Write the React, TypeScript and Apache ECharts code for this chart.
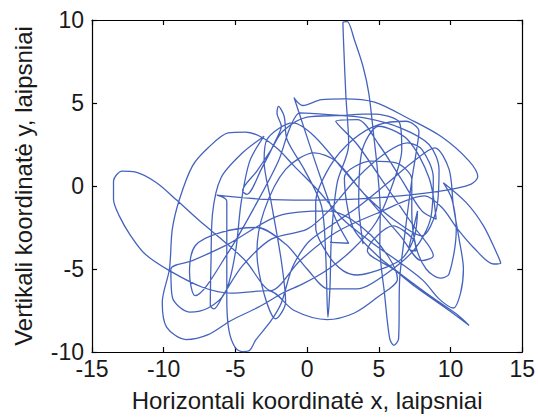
import React, { useEffect, useRef } from "react";
import * as echarts from "echarts";

const xTicks = [-15, -10, -5, 0, 5, 10, 15];
const yTicks = [-10, -5, 0, 5, 10];
const xTitle = "Horizontali koordinatė x, laipsniai";
const yTitle = "Vertikali koordinatė y, laipsniai";

// gaze trajectory (degrees)
const gazePath: [number, number][] = [
  [1.6, -3.4], [2.9, -3.45],
  [2.0, -2.0], [0.9, 0.6], [-0.1, 3.2], [-0.9, 5.3],
  [-0.3, 4.85], [1.0, 5.2], [2.6, 5.25], [4.7, 5.05], [7.1, 4.05], [9.4, 2.95], [11.3, 1.5], [11.9, 0.55], [11.4, 0.1], [9.4, -0.3], [6.5, -0.6], [3.0, -0.8], [0, -0.85], [-3, -0.8], [-6.3, -0.55],
  [-5.6, -0.9], [-5.6, -2.6], [-5.6, -4.8], [-5.6, -6.8], [-5.45, -8.7], [-5.0, -9.75], [-4.5, -9.98], [-4.0, -9.9], [-3.6, -9.3], [-2.5, -8.1], [-1.8, -7.05], [-1.1, -5.06], [-0.45, -4.0], [0.24, -3.25], [1.8, -2.3], [3.5, -1.3], [5.5, 0.1], [7.3, 1.4], [8.9, 2.3],
  [9.9, 1.0], [10.2, -1.2], [10.6, -3.2], [10.9, -5.0], [10.7, -6.45], [10.2, -7.35], [9.2, -6.8], [8.1, -5.7], [6.45, -4.6], [4.5, -3.4], [2.5, -2.0], [0.8, -0.3], [-0.9, 1.2], [-2.0, 2.2],
  [-3.2, 2.95], [-4.3, 3.25], [-5.5, 3.2], [-6.9, 2.3], [-8.0, 1.2], [-8.9, -0.8], [-9.4, -2.6], [-9.6, -5.0], [-10.1, -7.0], [-9.8, -8.5], [-8.45, -9.25], [-6.9, -8.95], [-5.3, -8.1], [-3.4, -7.3], [-1.6, -6.4], [-0.3, -5.9], [1.5, -5.0], [3.2, -3.8], [4.8, -2.2], [6.0, 0.2], [6.6, 2.2], [6.45, 3.8],
  [4.5, 4.35], [2.3, 4.25], [0, 4.15], [-1.7, 3.3], [-2.5, 2.2],
  [-3.5, 0.9], [-4.5, -0.3], [-4.2, -0.5], [-3.2, 1.0], [-2.1, 2.9], [-1.8, 3.6], [-2.1, 4.4], [-2.0, 4.8], [-1.6, 4.2], [-1.4, 2.8],
  [-0.2, 1.0], [1.0, -1.2], [1.3, -4.2], [1.45, -7.9], [1.6, -6.0], [1.7, -3.0], [2.1, 0.2], [2.9, 2.5],
  [2.7, 5.5], [2.55, 8.5], [2.5, 9.85], [2.8, 9.9], [3.3, 8.8], [3.9, 7.2], [4.3, 5.6], [4.65, 3.0], [4.9, 1.0], [5.1, -1.5], [5.07, -3.67], [5.4, -6.5], [5.76, -9.2], [6.05, -9.6], [6.38, -9.2], [6.45, -5.66], [6.7, -3.67], [7.3, 0.36], [7.6, 2.0],
  [7.8, 3.3], [6.9, 3.9], [5.0, 3.7], [3.2, 2.8], [1.6, 1.2], [0.6, -1.0], [0.6, -2.5], [1.5, -4.2], [2.5, -5.1], [3.5, -5.36], [5.5, -4.9], [6.7, -4.3], [7.5, -3.0], [7.7, -1.5],
  [7.3, -3.0], [7.1, -3.8], [7.6, -3.9], [7.4, -3.2], [6.0, -2.4], [4.2, -3.9], [6.0, -5.0], [7.6, -6.1], [9.9, -7.5], [11.3, -8.4], [10.4, -7.7], [8.8, -6.75], [6.45, -5.25], [4.9, -4.2],
  [3.2, -2.5], [2.6, 0.5], [4.5, 1.5], [6.2, 1.4], [7.3, 0.4], [7.3, -1.6], [7.6, -3.67], [8.3, -5.0], [9.3, -5.55], [9.9, -5.3], [10.4, -2.65], [10.1, -0.8], [9.5, 0.2],
  [11.1, -1.0], [12.3, -2.4], [13.2, -4.0], [13.5, -4.65], [13.0, -4.7], [11.6, -3.7], [10.5, -2.6], [9.4, -1.3], [8.2, -0.6],
  [5, -1.6], [2, -2.8], [-0.5, -4.5], [-2.5, -6.3],
  [-4.3, -4.5], [-5.7, -3.4], [-7.5, -2.1], [-9.1, -0.85], [-10.5, 0.2], [-12, 0.85], [-12.9, 0.9], [-13.5, 0.3], [-13.5, -0.8], [-13.1, -1.8], [-12.3, -3.0], [-11.3, -4.1], [-9.6, -5.1], [-7.3, -6.1], [-5.3, -6.45], [-2.7, -6.3],
  [-0.9, -7.5], [1.4, -8.05], [3.3, -7.65], [4.9, -6.7], [6.3, -5.6],
  [4.5, -3.0], [1.5, -1.5], [-2, -1.8], [-5.5, -3.5], [-8, -4.5], [-9.5, -5.0], [-9.4, -6.7], [-8.2, -7.6], [-6.9, -7.35], [-5.7, -6.4], [-5.0, -4.0], [-4.6, -1.0], [-4.0, 1.5], [-3.0, 3.0],
  [-4.5, 2.0], [-6.0, 0.5], [-6.6, -1.7], [-6.7, -4.5], [-6.75, -7.2], [-6.5, -7.4], [-5.8, -6.5], [-4.5, -4.8], [-2.5, -3.2], [0, -2.6],
  [1.5, -1.5], [3.5, 0.5], [5.5, 2.0], [7.0, 2.6], [8.0, 2.2],
  [8.8, 0.5], [8.6, -2.0], [7.5, -3.8], [5.5, -5.3], [3.5, -6.2], [1.5, -6.2], [0, -5.0], [-1.5, -3.5], [-3.5, -2.5], [-6, -2.8], [-7.8, -3.6],
  [-8.2, -5.2], [-7.8, -6.6], [-5.5, -4.0], [-3.5, -1.0], [-2.0, 1.5], [-1.2, 3.5], [-0.5, 4.4],
  [1.5, 4.3], [4.0, 4.1], [6.5, 3.5], [8.5, 2.5], [9.2, 1.0], [9.0, -1.5], [8.0, -3.0],
  [6.0, -2.0], [4.0, -0.5], [2.0, 1.5], [0.5, 2.0], [-1.5, 1.0], [-3.0, -1.5], [-3.5, -4.0], [-3.0, -6.5], [-2.2, -8.0], [-1.5, -7.0], [-1.8, -4.5], [-2.5, -1.0], [-3.0, 1.5], [-2.8, 2.8],
  [-1.0, 3.8], [0.5, 3.0], [2.5, 1.0], [4.5, -1.0], [6.5, -3.0], [8.0, -4.5], [8.8, -4.2], [7.5, -2.5], [5.5, 0.0], [3.5, 2.5], [2.0, 3.9],
  [3.5, 4.0], [5.0, 2.5], [6.5, 0.5], [8.0, -1.5], [9.0, -2.0], [8.5, 0.5], [7.0, 2.8], [5.0, 3.6], [3.8, 2.0], [3.6, -1.0], [3.9, -3.5]
];

const textColor = "#1a1a1a";
const font = "'Liberation Sans', Arial, sans-serif";

export default function App() {
  const ref = useRef<HTMLDivElement>(null);
  useEffect(() => {
    if (!ref.current) return;
    const chart = echarts.init(ref.current, null, { renderer: "svg" });
    const axisLine = { show: true, onZero: false, lineStyle: { color: "#000", width: 1.2 } };
    const tick = { show: true, inside: true, length: 5, lineStyle: { color: "#000", width: 1.2 } };
    chart.setOption({
      animation: false,
      backgroundColor: "#fff",
      grid: { left: 92, right: 11, top: 20, bottom: 66, containLabel: false },
      xAxis: [
        {
          type: "value", min: xTicks[0], max: xTicks[xTicks.length - 1], interval: 5,
          position: "bottom",
          axisLine, axisTick: tick, splitLine: { show: false },
          axisLabel: { color: textColor, fontSize: 23, fontFamily: font, margin: 5 },
          name: xTitle, nameLocation: "middle", nameGap: 36,
          nameTextStyle: { color: textColor, fontSize: 24, fontFamily: font },
        },
        {
          type: "value", min: xTicks[0], max: xTicks[xTicks.length - 1], interval: 5,
          position: "top",
          axisLine, axisTick: tick, splitLine: { show: false }, axisLabel: { show: false },
        },
      ],
      yAxis: [
        {
          type: "value", min: yTicks[0], max: yTicks[yTicks.length - 1], interval: 5,
          position: "left",
          axisLine, axisTick: tick, splitLine: { show: false },
          axisLabel: { color: textColor, fontSize: 23, fontFamily: font, margin: 8 },
          name: yTitle, nameLocation: "middle", nameGap: 57, nameRotate: 90,
          nameTextStyle: { color: textColor, fontSize: 24, fontFamily: font },
        },
        {
          type: "value", min: yTicks[0], max: yTicks[yTicks.length - 1], interval: 5,
          position: "right",
          axisLine, axisTick: tick, splitLine: { show: false }, axisLabel: { show: false },
        },
      ],
      series: [
        {
          type: "line",
          data: gazePath,
          smooth: 0.3,
          showSymbol: false,
          symbol: "none",
          lineStyle: { color: "#4563bd", width: 1.3 },
          clip: true,
        },
      ],
    });
    return () => chart.dispose();
  }, []);
  return <div ref={ref} style={{ width: 538, height: 418, position: "absolute", left: 0, top: 0 }} />;
}
